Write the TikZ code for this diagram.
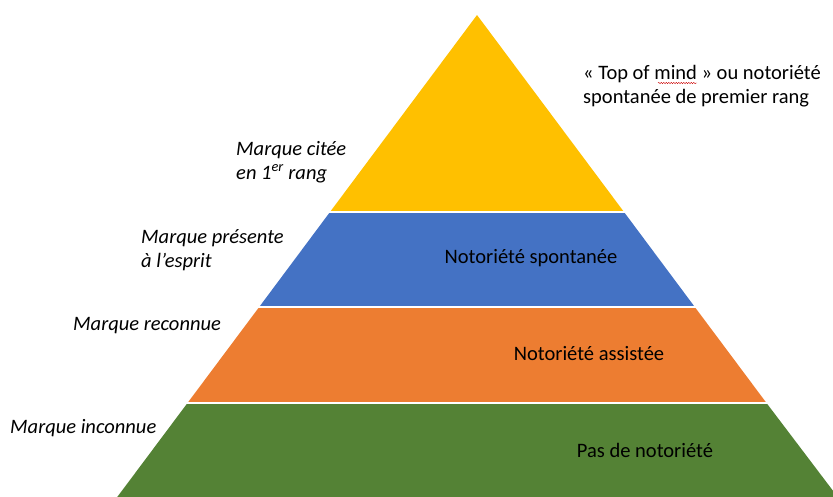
\documentclass[tikz,border=0pt]{standalone}
\usepackage{fontspec}
\setmainfont{Carlito}
\usetikzlibrary{decorations.pathmorphing}
\definecolor{topyellow}{HTML}{FFC000}
\definecolor{spontblue}{HTML}{4472C4}
\definecolor{assistorange}{HTML}{ED7D31}
\definecolor{nonegreen}{HTML}{548235}
\begin{document}
\begin{tikzpicture}[x=1pt,y=-1pt,
  lbl/.style={font=\fontsize{20.5}{24}\selectfont, inner sep=0pt, align=left, text=black},
  side/.style={lbl, font=\fontsize{20.5}{24}\selectfont\itshape, anchor=west}]
\useasboundingbox (0,0) rectangle (833,496);
\begin{scope}
\clip (0,0) rectangle (833,496);
% pyramid layers, apex at (477,15)
\fill[topyellow] (477,15) -- (624,212) -- (330,212) -- cycle;
\fill[spontblue] (330,212) -- (624,212) -- (694.8,307) -- (259.2,307) -- cycle;
\fill[assistorange] (259.2,307) -- (694.8,307) -- (766.5,403) -- (187.5,403) -- cycle;
\fill[nonegreen] (187.5,403) -- (766.5,403) -- (840,500) -- (115,500) -- cycle;
% thin separators between the layers
\draw[white, line width=1.2pt] (320,212) -- (634,212);
\draw[white, line width=1.2pt] (250,307) -- (704,307);
\draw[white, line width=1.2pt] (178,403) -- (776,403);
\end{scope}
% labels inside the layers
\node[lbl] (spont) at (531,258) {Notoriété spontanée};
\node[lbl] (assist) at (589,354) {Notoriété assistée};
\node[lbl] (none) at (645,450) {Pas de notoriété};
% labels beside the layers
\node[lbl, anchor=west] (top) at (583,86) {« Top of mind » ou notoriété\\spontanée de premier rang};
\draw[red!80!black, line width=0.4pt, decorate,
  decoration={snake, amplitude=0.7pt, segment length=2.5pt}] (658,83) -- (697,83);
\node[side] (cited) at (236,162) {Marque citée\\en 1\textsuperscript{er} rang};
\node[side] (present) at (141,250) {Marque présente\\à l’esprit};
\node[side] (known) at (73,326) {Marque reconnue};
\node[side] (unknown) at (10,428) {Marque inconnue};
\end{tikzpicture}
\end{document}
